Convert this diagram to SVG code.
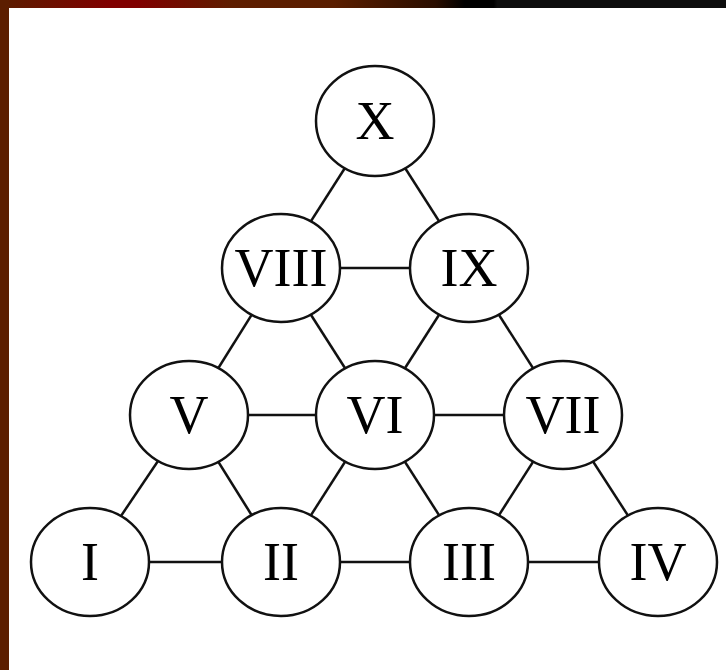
<svg xmlns="http://www.w3.org/2000/svg" width="726" height="670" viewBox="0 0 726 670">
<defs>
<linearGradient id="topbar" x1="0" y1="0" x2="726" y2="0" gradientUnits="userSpaceOnUse">
<stop offset="0" stop-color="#5a1e00"/>
<stop offset="0.15" stop-color="#800000"/>
<stop offset="0.19" stop-color="#800000"/>
<stop offset="0.32" stop-color="#5e1e00"/>
<stop offset="0.46" stop-color="#5a1e00"/>
<stop offset="0.6" stop-color="#2a0e00"/>
<stop offset="0.64" stop-color="#000000"/>
<stop offset="0.68" stop-color="#000000"/>
<stop offset="0.685" stop-color="#0d0d0d"/>
<stop offset="1" stop-color="#0d0d0d"/>
</linearGradient>
</defs>
<style>
.edge{stroke:#111;stroke-width:2.5;fill:none}
.node ellipse{fill:#fff;stroke:#111;stroke-width:2.5}
.node text{font-family:"Liberation Serif","Times New Roman",serif;font-size:54px;fill:#000;text-anchor:middle}
</style>
<rect x="0" y="0" width="726" height="670" fill="#fff"/>
<rect x="0" y="0" width="726" height="8" fill="url(#topbar)"/>
<rect x="0" y="0" width="9" height="670" fill="#5c1e00"/>
<g id="connectors">
<line class="edge" x1="90" y1="562" x2="281" y2="562"/>
<line class="edge" x1="281" y1="562" x2="469" y2="562"/>
<line class="edge" x1="469" y1="562" x2="658" y2="562"/>
<line class="edge" x1="189" y1="415" x2="375" y2="415"/>
<line class="edge" x1="375" y1="415" x2="563" y2="415"/>
<line class="edge" x1="281" y1="268" x2="469" y2="268"/>
<line class="edge" x1="375" y1="121" x2="281" y2="268"/>
<line class="edge" x1="375" y1="121" x2="469" y2="268"/>
<line class="edge" x1="281" y1="268" x2="189" y2="415"/>
<line class="edge" x1="281" y1="268" x2="375" y2="415"/>
<line class="edge" x1="469" y1="268" x2="375" y2="415"/>
<line class="edge" x1="469" y1="268" x2="563" y2="415"/>
<line class="edge" x1="189" y1="415" x2="90" y2="562"/>
<line class="edge" x1="189" y1="415" x2="281" y2="562"/>
<line class="edge" x1="375" y1="415" x2="281" y2="562"/>
<line class="edge" x1="375" y1="415" x2="469" y2="562"/>
<line class="edge" x1="563" y1="415" x2="469" y2="562"/>
<line class="edge" x1="563" y1="415" x2="658" y2="562"/>
</g>
<g id="node-X" class="node"><ellipse cx="375" cy="121" rx="59" ry="55"/><text x="375" y="139">X</text></g>
<g id="node-VIII" class="node"><ellipse cx="281" cy="268" rx="59" ry="54"/><text x="281" y="286">VIII</text></g>
<g id="node-IX" class="node"><ellipse cx="469" cy="268" rx="59" ry="54"/><text x="469" y="286">IX</text></g>
<g id="node-V" class="node"><ellipse cx="189" cy="415" rx="59" ry="54"/><text x="189" y="433">V</text></g>
<g id="node-VI" class="node"><ellipse cx="375" cy="415" rx="59" ry="54"/><text x="375" y="433">VI</text></g>
<g id="node-VII" class="node"><ellipse cx="563" cy="415" rx="59" ry="54"/><text x="563" y="433">VII</text></g>
<g id="node-I" class="node"><ellipse cx="90" cy="562" rx="59" ry="54"/><text x="90" y="580">I</text></g>
<g id="node-II" class="node"><ellipse cx="281" cy="562" rx="59" ry="54"/><text x="281" y="580">II</text></g>
<g id="node-III" class="node"><ellipse cx="469" cy="562" rx="59" ry="54"/><text x="469" y="580">III</text></g>
<g id="node-IV" class="node"><ellipse cx="658" cy="562" rx="59" ry="54"/><text x="658" y="580">IV</text></g>
</svg>
